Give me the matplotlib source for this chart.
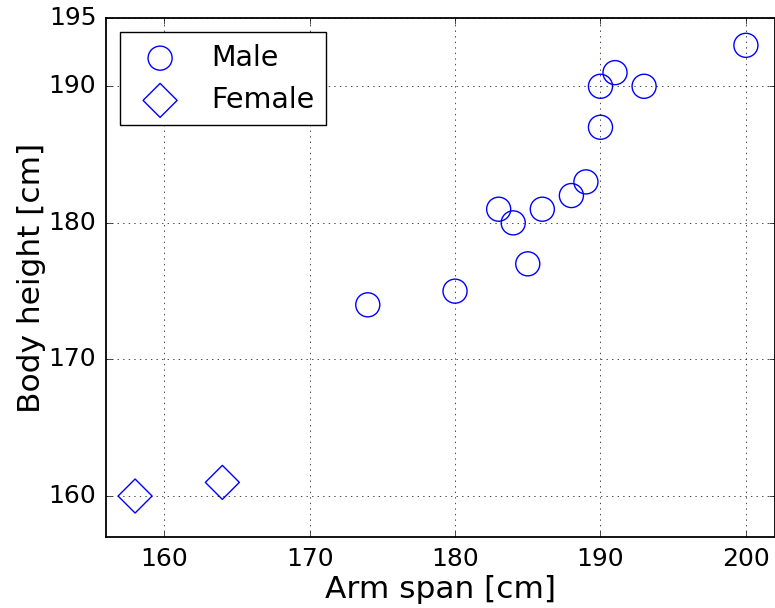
import matplotlib
matplotlib.use("Agg")
import matplotlib.pyplot as plt

plt.style.use("classic")

# Arm span vs. body height measurements
male_span = [174, 180, 183, 184, 185, 186, 188, 189, 190, 190, 191, 193, 200]
male_height = [174, 175, 181, 180, 177, 181, 182, 183, 187, 190, 191, 190, 193]
female_span = [158, 164]
female_height = [160, 161]

fig = plt.figure(figsize=(7.75, 6.08), dpi=100, facecolor="white")
ax = fig.add_axes([106 / 775, 1 - 537 / 608, (775 - 106) / 775, (537 - 18) / 608])

ax.scatter(male_span, male_height, s=300, marker="o", facecolors="none",
           edgecolors="blue", linewidths=1, label="Male")
ax.scatter(female_span, female_height, s=300, marker="D", facecolors="none",
           edgecolors="blue", linewidths=1, label="Female")

ax.set_xlim(156, 202)
ax.set_ylim(157, 195)
ax.set_xticks([160, 170, 180, 190, 200])
ax.set_yticks([160, 170, 180, 190, 195])
ax.tick_params(labelsize=18, pad=7)
ax.grid(True, linestyle=":", color="black")
for s in ax.spines.values():
    s.set_linewidth(1.3)
ax.set_xlabel("Arm span [cm]", fontsize=22.5, labelpad=3)
ax.set_ylabel("Body height [cm]", fontsize=22.5, labelpad=2)

ax.legend(loc="upper left", scatterpoints=1, fontsize=20.5, fancybox=False,
          borderaxespad=0.5)

fig.savefig("out.png", dpi=100, facecolor="white")
